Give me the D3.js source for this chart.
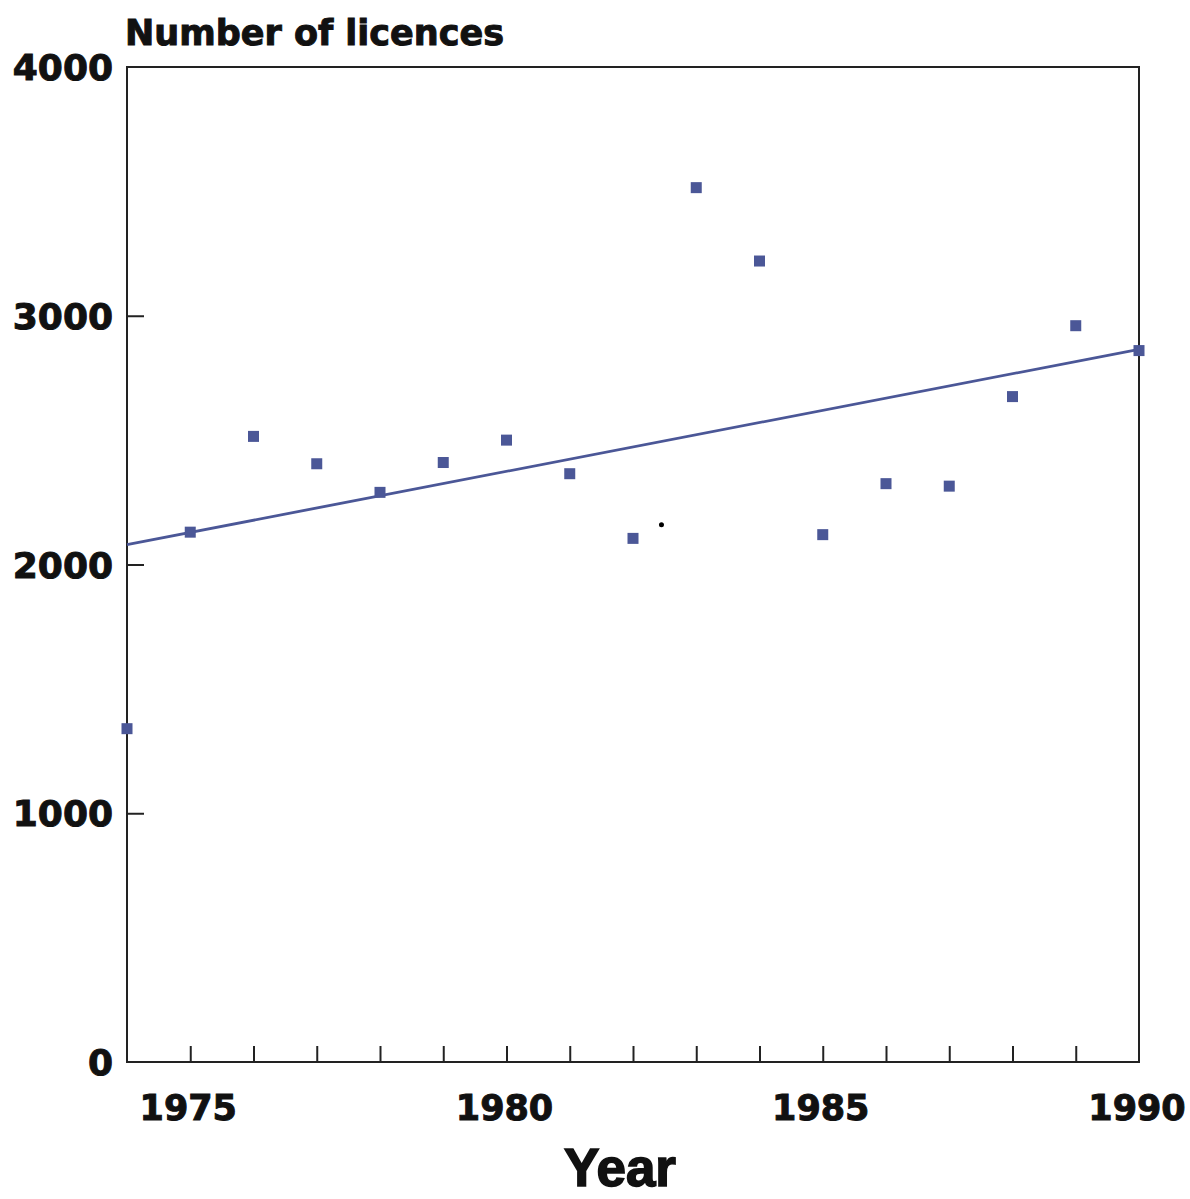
<!DOCTYPE html>
<html>
<head>
<meta charset="utf-8">
<script src="https://cdn.jsdelivr.net/npm/d3@7"></script>
<style>
  body { margin: 0; background: #fff; }
  svg text { font-family: "DejaVu Sans", sans-serif; font-weight: bold; fill: #111; stroke: #111; stroke-width: 1; }
</style>
</head>
<body>
<div id="chart"></div>
<script>
// data
const years = [1974, 1975, 1976, 1977, 1978, 1979, 1980, 1981, 1982,
               1983, 1984, 1985, 1986, 1987, 1988, 1989, 1990];
const licences = [1340, 2130, 2515, 2405, 2290, 2410, 2500, 2365, 2105,
                  3515, 3220, 2120, 2325, 2315, 2675, 2960, 2860];
const trendYears = [1974, 1990];
const trendValues = [2080, 2865];
const strayDot = [[1982.45, 2160]];   // small black speck in the original
const yTicks = [0, 1000, 2000, 3000, 4000];
const xLabels = [1975, 1980, 1985, 1990];

const width = 1190;
const height = 1199;
const margin = { top: 67, right: 51, bottom: 137, left: 127 };

const svg = d3.select('#chart')
    .append('svg')
    .attr('width', width)
    .attr('height', height);

const x = d3.scaleLinear()
    .domain([1974, 1990])
    .range([margin.left, width - margin.right]);

const y = d3.scaleLinear()
    .domain([0, 4000])
    .range([height - margin.bottom, margin.top]);

const blue = '#4b5797';

// frame
svg.append('rect')
    .attr('x', x(1974))
    .attr('y', y(4000))
    .attr('width', x(1990) - x(1974))
    .attr('height', y(0) - y(4000))
    .attr('fill', 'none')
    .attr('stroke', '#222')
    .attr('stroke-width', 2);

// x axis: inward ticks every year, labels every 5
const xAxis = g => {
    g.attr('transform', `translate(0, ${y(0)})`)
        .call(d3.axisBottom(x)
            .tickValues(d3.range(1975, 1990))
            .tickSizeInner(-16)
            .tickSizeOuter(0)
            .tickFormat(''));
    g.select('.domain').remove();
    g.selectAll('line').attr('stroke', '#222').attr('stroke-width', 2);
};
svg.append('g').call(xAxis);

svg.append('g')
    .selectAll('text')
    .data(xLabels)
    .join('text')
    .attr('x', d => x(d) - 2)
    .attr('y', y(0) + 58)
    .attr('text-anchor', 'middle')
    .attr('font-size', 35)
    .text(d => d);

// y axis: inward ticks, labels outside
const yAxis = g => {
    g.attr('transform', `translate(${x(1974)}, 0)`)
        .call(d3.axisLeft(y)
            .tickValues(yTicks.slice(1, -1))
            .tickSizeInner(-17)
            .tickSizeOuter(0)
            .tickFormat(''));
    g.select('.domain').remove();
    g.selectAll('line').attr('stroke', '#222').attr('stroke-width', 2);
};
svg.append('g').call(yAxis);

svg.append('g')
    .selectAll('text')
    .data(yTicks)
    .join('text')
    .attr('x', x(1974) - 14)
    .attr('y', d => y(d) + 13)
    .attr('text-anchor', 'end')
    .attr('font-size', 36)
    .text(d => d);

// titles
svg.append('text')
    .attr('x', 125)
    .attr('y', 45)
    .attr('font-size', 35)
    .text('Number of licences');

svg.append('text')
    .attr('x', 620)
    .attr('y', 1186)
    .attr('text-anchor', 'middle')
    .attr('font-size', 53)
    .style('font-family', '"Liberation Sans", Arial, sans-serif')
    .style('stroke-width', 1.6)
    .text('Year');

// trend line
svg.append('line')
    .attr('x1', x(trendYears[0]))
    .attr('y1', y(trendValues[0]))
    .attr('x2', x(trendYears[1]))
    .attr('y2', y(trendValues[1]))
    .attr('stroke', blue)
    .attr('stroke-width', 2.8);

// points
const size = 11;
svg.append('g')
    .attr('fill', blue)
    .selectAll('rect')
    .data(years)
    .join('rect')
    .attr('x', d => x(d) - size / 2)
    .attr('y', (d, i) => y(licences[i]) - size / 2)
    .attr('width', size)
    .attr('height', size);

svg.append('g')
    .selectAll('circle')
    .data(strayDot)
    .join('circle')
    .attr('cx', d => x(d[0]))
    .attr('cy', d => y(d[1]))
    .attr('r', 2.5)
    .attr('fill', '#000');
</script>
</body>
</html>
